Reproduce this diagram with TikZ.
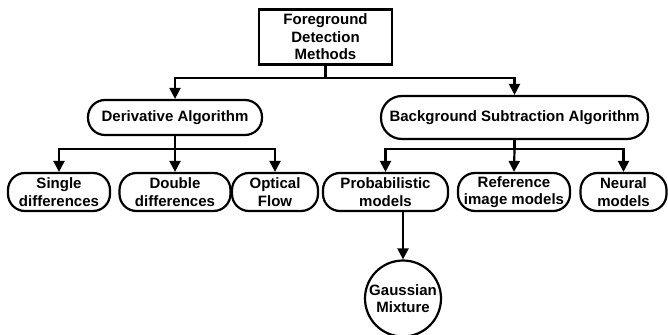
\documentclass[tikz,border=0pt]{standalone}
\usepackage{fontspec}
\setmainfont{Liberation Sans}
\usetikzlibrary{arrows.meta,calc}
\begin{document}
\begin{tikzpicture}[x=1pt,y=-1pt,
  every node/.style={font=\fontsize{15}{17.5}\selectfont\bfseries, align=center, inner sep=0pt, line width=2.2pt, draw},
  sq/.style={rectangle},
  pill/.style={rectangle, rounded corners=#1},
  pill/.default=17pt,
  circ/.style={circle},
  conn/.style={line width=2.2pt},
  arr/.style={line width=2.2pt, -{Triangle[width=11pt,length=11pt]}}
]
\useasboundingbox (0,0) rectangle (668,334);
\node[sq, minimum width=133pt, minimum height=55pt] (top) at (325.5,37) {Foreground\\Detection\\Methods};
\node[pill=17pt, minimum width=174pt, minimum height=35pt] (deriv) at (175,117.5) {Derivative Algorithm};
\node[pill=21pt, minimum width=267pt, minimum height=43pt] (bsa) at (514.5,117.5) {Background Subtraction Algorithm};
\node[pill, minimum width=102pt, minimum height=38pt] (single) at (59,192) {Single\\differences};
\node[pill, minimum width=111pt, minimum height=38pt] (double) at (175,192) {Double\\differences};
\node[pill, minimum width=86pt, minimum height=38pt] (optical) at (275,192) {Optical\\Flow};
\node[pill, minimum width=125pt, minimum height=38pt] (prob) at (385.5,192) {Probabilistic\\models};
\node[pill, minimum width=112pt, minimum height=38pt] (ref) at (514,192) {Reference\\image models};
\node[pill, minimum width=86pt, minimum height=38pt] (neural) at (623.5,192) {Neural\\models};
\node[circ, minimum size=76pt] (gauss) at (403,298.5) {Gaussian\\Mixture};
\coordinate (j1) at (325.5,78);
\coordinate (j2) at (175,149);
\coordinate (j3) at (514.5,149);
\draw[conn] (top.south) -- (j1);
\draw[arr] (j1) -| (deriv.north);
\draw[arr] (j1) -| (bsa.north);
\draw[conn] (deriv.south) -- (j2);
\draw[arr] (j2) -| (single.north);
\draw[arr] (j2) -- (double.north);
\draw[arr] (j2) -| (optical.north);
\draw[conn] (bsa.south) -- (j3);
\draw[arr] (j3) -| (prob.north);
\draw[arr] (j3) -- (ref.north);
\draw[arr] (j3) -| (neural.north);
\draw[arr] (prob.south -| gauss.north) -- (gauss.north);
\end{tikzpicture}
\end{document}
